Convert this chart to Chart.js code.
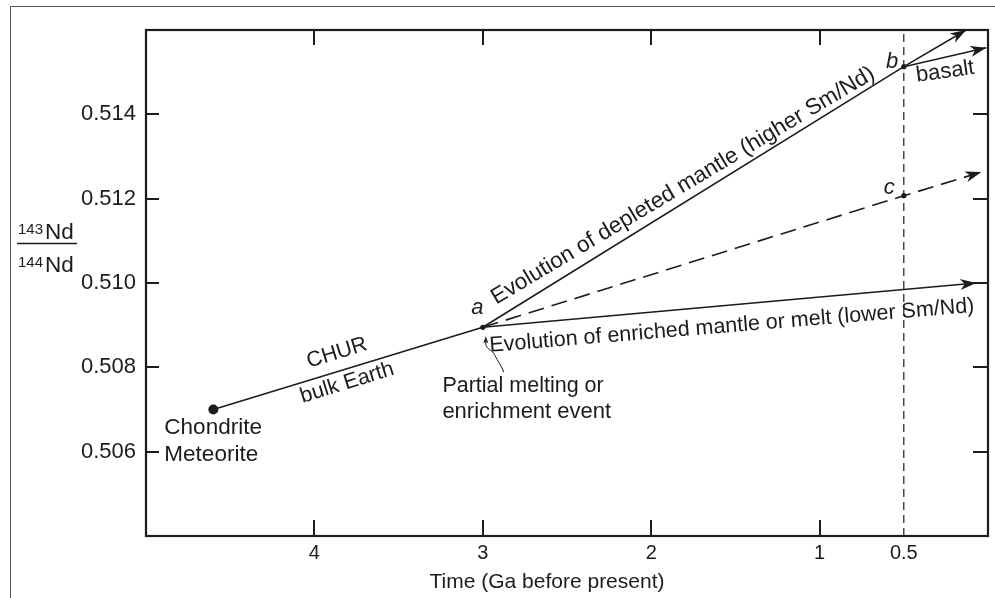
<!DOCTYPE html>
<html><head><meta charset="utf-8">
<script src="https://cdn.jsdelivr.net/npm/chart.js@4.4.1/dist/chart.umd.min.js"></script>
<style>html,body{margin:0;padding:0;background:#fff;}#wrap{width:995px;height:598px;position:relative;}</style>
</head><body><div id="wrap"><canvas id="c" width="995" height="598"></canvas></div>
<script>
// ---- data ----
const xTickValues = [4, 3, 2, 1, 0.5];
const xTickLabels = ['4', '3', '2', '1', '0.5'];
const xInnerTickValues = [4, 3, 2, 1];
const yTickValues = [0.506, 0.508, 0.510, 0.512, 0.514];
const yTickLabels = ['0.506', '0.508', '0.510', '0.512', '0.514'];
const xAxisTitle = 'Time (Ga before present)';

const churTime = [4.6, 3.0];
const churRatio = [0.50700, 0.50895];
const depletedTime = [3.0, 0.5, 0.13];
const depletedRatio = [0.50895, 0.51513, 0.51600];
const basaltTime = [0.5, 0.01];
const basaltRatio = [0.51513, 0.51558];
const dashedTime = [3.0, 0.5, 0.04];
const dashedRatio = [0.50895, 0.51207, 0.51263];
const enrichedTime = [3.0, 0.07];
const enrichedRatio = [0.50895, 0.51000];
const markerTime = [0.5, 0.5];
const markerRatio = [0.504, 0.516];
const chondriteTime = [4.6];
const chondriteRatio = [0.50700];
const nodeTime = [3.0, 0.5, 0.5];
const nodeRatio = [0.50895, 0.51513, 0.51207];

const annotations = [
  {text: 'Chondrite', t: 4.891, v: 0.50657, align: 'left', rot: 0, size: 22.5},
  {text: 'Meteorite', t: 4.891, v: 0.50592, align: 'left', rot: 0, size: 22.5},
  {text: 'CHUR', t: 3.866, v: 0.50834, align: 'center', rot: -17.2, size: 21.5},
  {text: 'bulk Earth', t: 3.806, v: 0.50763, align: 'center', rot: -17.2, size: 21.5},
  {text: 'Partial melting or', t: 3.240, v: 0.50756, align: 'left', rot: 0, size: 21.5},
  {text: 'enrichment event', t: 3.240, v: 0.50694, align: 'left', rot: 0, size: 22},
  {text: 'a', t: 3.033, v: 0.50941, align: 'center', rot: 0, size: 22, italic: true},
  {text: 'b', t: 0.570, v: 0.51525, align: 'center', rot: 0, size: 22, italic: true},
  {text: 'c', t: 0.586, v: 0.51226, align: 'center', rot: 0, size: 22, italic: true},
  {text: 'basalt', t: 0.254, v: 0.51501, align: 'center', rot: -8, size: 22},
  {text: 'Evolution of depleted mantle (higher Sm/Nd)', t: 1.792, v: 0.51218, align: 'center', rot: -30.9, size: 22.5, base: 'alphabetic'},
  {text: 'Evolution of enriched mantle or melt (lower Sm/Nd)', t: 1.518, v: 0.50884, align: 'center', rot: -4.7, size: 21.5, base: 'alphabetic'}
];

const zip = (xs, ys) => xs.map((x, i) => ({x: x, y: ys[i]}));
const INK = '#1c1c1c';
const FONT = "'Liberation Sans', Arial, Helvetica, sans-serif";

function lineDs(xs, ys, extra) {
  return Object.assign({
    data: zip(xs, ys), showLine: true, borderColor: INK, borderWidth: 1.6,
    pointRadius: 0, fill: false, tension: 0
  }, extra || {});
}

const datasets = [
  lineDs(markerTime, markerRatio, {borderDash: [8, 5], borderWidth: 1.2}),
  lineDs(churTime, churRatio, {arrow: false}),
  lineDs(depletedTime, depletedRatio, {arrow: true}),
  lineDs(basaltTime, basaltRatio, {arrow: true}),
  lineDs(dashedTime, dashedRatio, {arrow: true, borderDash: [16, 8]}),
  lineDs(enrichedTime, enrichedRatio, {arrow: true}),
  {data: zip(chondriteTime, chondriteRatio), showLine: false, pointRadius: 5, pointBackgroundColor: INK, pointBorderWidth: 0},
  {data: zip(nodeTime, nodeRatio), showLine: false, pointRadius: 2.6, pointBackgroundColor: INK, pointBorderWidth: 0}
];

function arrowHead(ctx, x0, y0, x1, y1) {
  const ang = Math.atan2(y1 - y0, x1 - x0);
  const len = 16, half = 5.5;
  ctx.save();
  ctx.translate(x1, y1); ctx.rotate(ang);
  ctx.fillStyle = INK;
  ctx.beginPath();
  ctx.moveTo(0, 0); ctx.lineTo(-len, -half); ctx.lineTo(-len * 0.72, 0); ctx.lineTo(-len, half);
  ctx.closePath(); ctx.fill();
  ctx.restore();
}

const decor = {
  id: 'decor',
  afterDatasetsDraw(chart) {
    const ctx = chart.ctx;
    chart.data.datasets.forEach((ds, i) => {
      if (!ds.arrow) return;
      const pts = chart.getDatasetMeta(i).data;
      const n = pts.length;
      arrowHead(ctx, pts[n - 2].x, pts[n - 2].y, pts[n - 1].x, pts[n - 1].y);
    });
  },
  afterDraw(chart) {
    const ctx = chart.ctx;
    const xs = chart.scales.x, ys = chart.scales.y;
    const a = chart.chartArea;
    ctx.save();
    // plot frame
    ctx.strokeStyle = INK; ctx.lineWidth = 2.2;
    ctx.strokeRect(a.left, a.top, a.right - a.left, a.bottom - a.top);
    // inner ticks
    ctx.lineWidth = 2;
    const TL = 15;
    ctx.beginPath();
    xInnerTickValues.forEach(v => {
      const px = Math.round(xs.getPixelForValue(v));
      ctx.moveTo(px, a.bottom); ctx.lineTo(px, a.bottom - TL - 1);
      ctx.moveTo(px, a.top); ctx.lineTo(px, a.top + TL);
    });
    yTickValues.forEach(v => {
      const py = Math.round(ys.getPixelForValue(v));
      ctx.moveTo(a.left, py); ctx.lineTo(a.left + TL - 2, py);
      ctx.moveTo(a.right, py); ctx.lineTo(a.right - TL, py);
    });
    ctx.stroke();

    // outer scan frame
    ctx.strokeStyle = '#555'; ctx.lineWidth = 1;
    ctx.beginPath();
    ctx.moveTo(10.5, 598); ctx.lineTo(10.5, 6.5); ctx.lineTo(995, 6.5);
    ctx.stroke();

    // x-axis title
    ctx.fillStyle = INK;
    ctx.font = '21px ' + FONT;
    ctx.textAlign = 'center'; ctx.textBaseline = 'middle';
    ctx.fillText(xAxisTitle, 547, 582);

    // annotations
    annotations.forEach(l => {
      const px = xs.getPixelForValue(l.t), py = ys.getPixelForValue(l.v);
      ctx.save();
      ctx.translate(px, py);
      ctx.rotate(l.rot * Math.PI / 180);
      ctx.font = (l.italic ? 'italic ' : '') + l.size + 'px ' + FONT;
      ctx.textAlign = l.align;
      ctx.textBaseline = l.base || 'middle';
      ctx.fillText(l.text, 0, 0);
      ctx.restore();
    });

    // curly arrow under point a
    const ax = xs.getPixelForValue(nodeTime[0]), ay = ys.getPixelForValue(nodeRatio[0]);
    ctx.strokeStyle = INK; ctx.lineWidth = 1;
    ctx.beginPath();
    ctx.moveTo(ax + 3, ay + 14);
    ctx.bezierCurveTo(ax + 2, ay + 23, ax + 10, ay + 22, ax + 12, ay + 28);
    ctx.bezierCurveTo(ax + 15, ay + 34, ax + 19, ay + 39, ax + 21, ay + 45);
    ctx.stroke();
    ctx.beginPath();
    ctx.moveTo(ax + 3, ay + 9); ctx.lineTo(ax + 0.5, ay + 16); ctx.lineTo(ax + 3, ay + 14.5); ctx.lineTo(ax + 5.5, ay + 16);
    ctx.closePath(); ctx.fill();

    // y-axis title: 143Nd / 144Nd
    ctx.textAlign = 'left'; ctx.textBaseline = 'alphabetic';
    ctx.font = '15px ' + FONT; ctx.fillText('143', 18, 234);
    ctx.font = '22.5px ' + FONT; ctx.fillText('Nd', 45, 238.5);
    ctx.font = '15px ' + FONT; ctx.fillText('144', 18, 267);
    ctx.font = '22.5px ' + FONT; ctx.fillText('Nd', 45, 272);
    ctx.lineWidth = 1.5;
    ctx.beginPath(); ctx.moveTo(17, 243.5); ctx.lineTo(77, 243.5); ctx.stroke();
    ctx.restore();
  }
};

new Chart(document.getElementById('c'), {
  type: 'scatter',
  data: {datasets: datasets},
  options: {
    responsive: false, animation: false, devicePixelRatio: 1,
    layout: {padding: {top: 30, right: 7, left: 0, bottom: 0}},
    plugins: {legend: {display: false}, tooltip: {enabled: false}},
    elements: {line: {clip: false}},
    scales: {
      x: {
        type: 'linear', reverse: true, min: 0, max: 5,
        afterBuildTicks: s => { s.ticks = xTickValues.map(v => ({value: v})); },
        afterFit: s => { s.height = 62; },
        grid: {display: false, drawTicks: false},
        border: {display: false},
        ticks: {
          autoSkip: false, maxRotation: 0, padding: 5, color: INK,
          font: {family: FONT, size: 20},
          callback: (v) => xTickLabels[xTickValues.indexOf(v)]
        },
        title: {display: false}
      },
      y: {
        type: 'linear', min: 0.504, max: 0.516,
        afterBuildTicks: s => { s.ticks = yTickValues.map(v => ({value: v})); },
        afterFit: s => { s.width = 146; },
        grid: {display: false, drawTicks: false},
        border: {display: false},
        ticks: {
          autoSkip: false, padding: 10, color: INK,
          font: {family: FONT, size: 22},
          callback: (v) => yTickLabels[yTickValues.findIndex(t => Math.abs(t - v) < 1e-7)]
        }
      }
    }
  },
  plugins: [decor]
});
</script>
</body></html>
